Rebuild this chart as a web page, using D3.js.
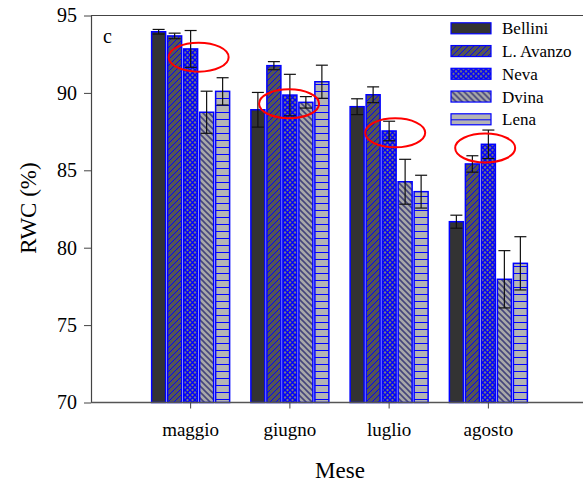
<!DOCTYPE html>
<html><head><meta charset="utf-8">
<script src="https://cdn.jsdelivr.net/npm/d3@7"></script>
<style>html,body{margin:0;padding:0;background:#fff}svg{display:block}
svg text{font-family:"Liberation Serif","Times New Roman",Times,"DejaVu Serif",serif !important;fill:#000}</style>
</head><body><svg id="c" width="583" height="482"></svg>
<script>
const months = ["maggio", "giugno", "luglio", "agosto"];
const series = ["Bellini", "L. Avanzo", "Neva", "Dvina", "Lena"];
const bellini  = [93.95, 88.91, 89.11, 81.68];
const lAvanzo  = [93.68, 91.76, 89.88, 85.41];
const neva     = [92.84, 89.86, 87.54, 86.68];
const dvina    = [88.75, 89.39, 84.26, 77.96];
const lena     = [90.10, 90.72, 83.62, 78.99];
const errBellini = [0.15, 1.12, 0.51, 0.42];
const errAvanzo  = [0.18, 0.26, 0.51, 0.53];
const errNeva    = [1.19, 1.34, 0.63, 0.92];
const errDvina   = [1.36, 0.37, 1.45, 1.85];
const errLena    = [0.88, 1.07, 1.06, 1.72];
const yTicks = [70, 75, 80, 85, 90, 95];
// annotation ellipses: month, series position (index), value at centre
const annotMonths = ["maggio", "giugno", "luglio", "agosto"];
const annotSeriesPos = [2.5, 1.95, 2.38, 1.8];
const annotValues = [92.31, 89.30, 87.42, 86.44];

const values = [bellini, lAvanzo, neva, dvina, lena];
const errs = [errBellini, errAvanzo, errNeva, errDvina, errLena];
const FONT = "'Liberation Serif','Times New Roman',Times,'DejaVu Serif',serif";

const svg = d3.select("#c").attr("font-family", FONT);
const L = 91, R = 583, T = 15.5, B = 402.5;

const x0 = d3.scaleBand().domain(months).range([141, 538]);
const x1 = d3.scaleBand().domain(series).range([-39, 39]).paddingInner(0.125);
const xi = d3.scaleLinear().domain([0, 4]).range([x1(series[0]) + x1.bandwidth()/2, x1(series[4]) + x1.bandwidth()/2]);
const y = d3.scaleLinear().domain([70, 95]).range([B, T]);

// patterns
const defs = svg.append("defs");
const BLUE = "#0000ff";
function pat(id, size, bg, draw) {
  const p = defs.append("pattern").attr("id", id).attr("patternUnits", "userSpaceOnUse")
    .attr("width", size).attr("height", size);
  p.append("rect").attr("width", size).attr("height", size).attr("fill", bg);
  draw(p, size);
}
pat("pAv", 6, "#555555", (p, s) => {
  p.append("path").attr("d", `M0,${s} L${s},0 M${-s/2},${s/2} L${s/2},${-s/2} M${s/2},${s*1.5} L${s*1.5},${s/2}`)
    .attr("stroke", BLUE).attr("stroke-width", 1);
});
pat("pNeva", 5, "#7a7a7a", (p, s) => {
  p.append("path").attr("d", `M0,0 L${s},${s} M0,${s} L${s},0`)
    .attr("stroke", BLUE).attr("stroke-width", 1.5);
});
pat("pDv", 6, "#a8a8a8", (p, s) => {
  p.append("path").attr("d", `M0,0 L${s},${s} M${-s/2},${s/2} L${s/2},${s*1.5} M${s/2},${-s/2} L${s*1.5},${s/2}`)
    .attr("stroke", "#45457a").attr("stroke-width", 1.6);
});
pat("pLena", 7, "#b4b4b4", (p, s) => {
  p.append("path").attr("d", `M0,0.5 L${s},0.5`).attr("stroke", BLUE).attr("stroke-width", 1);
});
const fills = ["#333333", "url(#pAv)", "url(#pNeva)", "url(#pDv)", "url(#pLena)"];

// frame
svg.append("line").attr("x1", L).attr("x2", R).attr("y1", T).attr("y2", T).attr("stroke", "#444").attr("stroke-width", 1.2);

// bars
const data = [];
months.forEach((m, i) => series.forEach((s, j) => data.push({m, s, j, v: values[j][i], e: errs[j][i]})));
const g = svg.append("g");
g.selectAll("rect.bar").data(data).join("rect").attr("class", "bar")
  .attr("x", d => x0(d.m) + x0.bandwidth()/2 + x1(d.s))
  .attr("width", x1.bandwidth())
  .attr("y", d => y(d.v))
  .attr("height", d => y(70) - y(d.v))
  .attr("fill", d => fills[d.j])
  .attr("stroke", BLUE).attr("stroke-width", 1.5);

// error bars
const eg = g.selectAll("g.err").data(data).join("g").attr("class", "err")
  .attr("transform", d => `translate(${x0(d.m) + x0.bandwidth()/2 + x1(d.s) + x1.bandwidth()/2},0)`);
eg.append("line").attr("x1", 0).attr("x2", 0).attr("y1", d => y(d.v + d.e)).attr("y2", d => y(d.v - d.e)).attr("stroke", "#111").attr("stroke-width", 1.2);
eg.append("line").attr("x1", -6).attr("x2", 6).attr("y1", d => y(d.v + d.e)).attr("y2", d => y(d.v + d.e)).attr("stroke", "#111").attr("stroke-width", 1.2);
eg.append("line").attr("x1", -6).attr("x2", 6).attr("y1", d => y(d.v - d.e)).attr("y2", d => y(d.v - d.e)).attr("stroke", "#111").attr("stroke-width", 1.2);

// annotation ellipses
svg.selectAll("ellipse.ann").data(annotMonths.map((m, i) => ({m, p: annotSeriesPos[i], v: annotValues[i]})))
  .join("ellipse").attr("class", "ann")
  .attr("cx", d => x0(d.m) + x0.bandwidth()/2 + xi(d.p))
  .attr("cy", d => y(d.v))
  .attr("rx", 30).attr("ry", 14.5)
  .attr("fill", "none").attr("stroke", "#ff0000").attr("stroke-width", 2);

// y axis
const ya = svg.append("g").attr("transform", `translate(${L},0)`)
  .call(d3.axisLeft(y).tickValues(yTicks).tickSize(7).tickSizeOuter(0).tickPadding(7));
ya.attr("font-family", FONT);
ya.select(".domain").attr("stroke", "#444").attr("stroke-width", 1.2);
ya.selectAll(".tick line").attr("stroke", "#444");
ya.selectAll("text").attr("font-size", 20).attr("fill", "#000");

// x axis
svg.append("line").attr("x1", L).attr("x2", R).attr("y1", B).attr("y2", B).attr("stroke", "#555").attr("stroke-width", 1.5);
const xa = svg.append("g").attr("transform", `translate(0,${B})`)
  .call(d3.axisBottom(x0).tickSize(6).tickSizeOuter(0).tickPadding(14));
xa.attr("font-family", FONT);
xa.select(".domain").remove();
xa.selectAll(".tick line").attr("stroke", "#444");
xa.selectAll("text").attr("font-size", 19).attr("fill", "#000");

// labels
svg.append("text").attr("x", 340).attr("y", 478).attr("text-anchor", "middle").attr("font-size", 23).text("Mese");
svg.append("text").attr("transform", "translate(36,208) rotate(-90)").attr("text-anchor", "middle").attr("font-size", 23).text("RWC (%)");
svg.append("text").attr("x", 103).attr("y", 43).attr("font-size", 20).text("c");

// legend
const lg = svg.append("g").selectAll("g").data(series).join("g")
  .attr("transform", (d, i) => `translate(451,${28.3 + i * 22.75})`);
lg.append("rect").attr("x", 0).attr("y", -5.5).attr("width", 40).attr("height", 11)
  .attr("fill", (d, i) => fills[i]).attr("stroke", BLUE).attr("stroke-width", 1.2);
lg.append("text").attr("x", 51).attr("y", 0).attr("dy", "0.35em").attr("font-size", 17).text(d => d);
</script></body></html>
